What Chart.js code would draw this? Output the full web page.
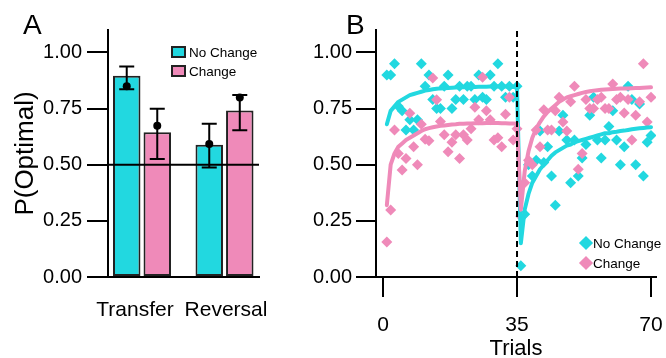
<!DOCTYPE html>
<html>
<head>
<meta charset="utf-8">
<script src="https://cdn.jsdelivr.net/npm/chart.js@4.4.1/dist/chart.umd.min.js"></script>
<style>
  body { margin: 0; background: #fff; width: 666px; height: 358px; position: relative; overflow: hidden;
         font-family: 'Liberation Sans', Arial, sans-serif; color: #000; }
  canvas { position: absolute; top: 0; }
  #chartA { left: 0; }
  #chartB { left: 290px; }
  .panel { position: absolute; font-size: 28px; line-height: 28px; }
  .legend-row { position: absolute; height: 16px; display: flex; align-items: center; font-size: 13.5px; white-space: nowrap; }
  .swatch { width: 15px; height: 12px; box-sizing: border-box; border: 2px solid #222; margin-right: 3px; }
  .diamond { width: 10px; height: 10px; margin: 0 2px; transform: rotate(45deg); }
</style>
</head>
<body>
<canvas id="chartA" width="270" height="358"></canvas>
<canvas id="chartB" width="376" height="358"></canvas>

<div class="panel" style="left:23px; top:11px;">A</div>
<div class="panel" style="left:346px; top:11px;">B</div>

<div class="legend-row" style="left:171px; top:44px;"><div class="swatch" style="background:#22d8e0"></div>No Change</div>
<div class="legend-row" style="left:171px; top:63px;"><div class="swatch" style="background:#ef8ab9"></div>Change</div>

<div class="legend-row" style="left:579px; top:235px;"><div class="diamond" style="background:#22d8e0"></div>No Change</div>
<div class="legend-row" style="left:579px; top:255px;"><div class="diamond" style="background:#ef8ab9"></div>Change</div>

<script>
// Colours
const CYAN = '#22d8e0';
const PINK = '#ef8ab9';

// ---- Panel A data ----
const categories = ['Transfer', 'Reversal'];
const noChangeBar = [0.896, 0.589];
const changeBar = [0.645, 0.741];
const noChangeDot = [0.850, 0.592];
const changeDot = [0.674, 0.799];
const noChangeLo = [0.836, 0.488];
const noChangeHi = [0.937, 0.682];
const changeLo = [0.525, 0.653];
const changeHi = [0.749, 0.811];
const chanceLevel = 0.5;
const yTicks = [0, 0.25, 0.5, 0.75, 1];

// ---- Panel B data ----
const trials = [1, 2, 3, 4, 5, 6, 7, 8, 9, 10, 11, 12, 13, 14, 15, 16, 17, 18, 19, 20,
  21, 22, 23, 24, 25, 26, 27, 28, 29, 30, 31, 32, 33, 34, 35, 36, 37, 38, 39, 40,
  41, 42, 43, 44, 45, 46, 47, 48, 49, 50, 51, 52, 53, 54, 55, 56, 57, 58, 59, 60,
  61, 62, 63, 64, 65, 66, 67, 68, 69, 70];
const xTicks = [0, 35, 70];
const switchTrial = 35;

const noChangeTrials = [
  0.90, 0.90, 0.95, 0.76, 0.74, 0.655, 0.70, 0.655, 0.70, 0.95,
  0.85, 0.90, 0.79, 0.75, 0.75, 0.85, 0.90, 0.75, 0.79, 0.85,
  0.79, 0.85, 0.85, 0.79, 0.90, 0.80, 0.79, 0.90, 0.85, 0.95,
  0.85, 0.80, 0.85, 0.80, 0.85,
  0.05, 0.28, 0.50, 0.45, 0.52, 0.65, 0.51, 0.58, 0.45, 0.32,
  0.65, 0.72, 0.61, 0.42, 0.61, 0.45, 0.53, 0.59, 0.72, 0.80,
  0.61, 0.53, 0.61, 0.67, 0.74, 0.61, 0.50, 0.58, 0.85, 0.79,
  0.50, 0.77, 0.45, 0.60, 0.63];
const changeTrials = [
  0.156, 0.298, 0.655, 0.55, 0.476, 0.528, 0.729, 0.58, 0.50, 0.68,
  0.613, 0.607, 0.886, 0.789, 0.692, 0.633, 0.558, 0.60, 0.633, 0.528,
  0.633, 0.61, 0.66, 0.756, 0.70, 0.89, 0.74, 0.70, 0.61, 0.62,
  0.58, 0.725, 0.80, 0.61, 0.66,
  0.27, 0.42, 0.52, 0.50, 0.655, 0.58, 0.745, 0.655, 0.655, 0.74,
  0.80, 0.69, 0.65, 0.78, 0.85, 0.48, 0.55, 0.79, 0.75, 0.75,
  0.79, 0.80, 0.75, 0.75, 0.86, 0.79, 0.80, 0.73, 0.79, 0.61,
  0.72, 0.78, 0.95, 0.69, 0.80];
const noChangeFit = [
  0.68, 0.74, 0.76, 0.78, 0.79, 0.80, 0.81, 0.815, 0.82, 0.825,
  0.83, 0.833, 0.836, 0.838, 0.84, 0.841, 0.842, 0.843, 0.844, 0.845,
  0.845, 0.846, 0.846, 0.846, 0.847, 0.847, 0.847, 0.848, 0.848, 0.848,
  0.848, 0.848, 0.847, 0.846, 0.845,
  0.15, 0.30, 0.37, 0.42, 0.45, 0.48, 0.50, 0.52, 0.54, 0.555,
  0.565, 0.575, 0.585, 0.59, 0.60, 0.605, 0.61, 0.615, 0.62, 0.625,
  0.63, 0.635, 0.64, 0.64, 0.645, 0.647, 0.65, 0.652, 0.655, 0.658,
  0.66, 0.662, 0.664, 0.666, 0.667];
const changeFit = [
  0.32, 0.50, 0.55, 0.58, 0.595, 0.61, 0.62, 0.63, 0.64, 0.65,
  0.658, 0.663, 0.667, 0.67, 0.673, 0.675, 0.677, 0.679, 0.68, 0.682,
  0.683, 0.684, 0.684, 0.685, 0.685, 0.685, 0.686, 0.686, 0.686, 0.686,
  0.685, 0.685, 0.684, 0.684, 0.683,
  0.30, 0.47, 0.56, 0.62, 0.66, 0.69, 0.715, 0.735, 0.75, 0.765,
  0.78, 0.79, 0.80, 0.805, 0.81, 0.815, 0.82, 0.824, 0.827, 0.83,
  0.832, 0.834, 0.835, 0.836, 0.837, 0.838, 0.839, 0.84, 0.84, 0.841,
  0.842, 0.842, 0.843, 0.844, 0.845];

// Global look
Chart.defaults.font.family = "'Liberation Sans', Arial, sans-serif";
Chart.defaults.color = '#000';

const Y_MAX = 1.1;

function yAxis(tickLen, pad) {
  return {
    min: 0, max: Y_MAX,
    afterBuildTicks: s => { s.ticks = yTicks.map(v => ({ value: v })); },
    ticks: { callback: v => v.toFixed(2), font: { size: 20 }, color: '#000', padding: pad },
    grid: { drawOnChartArea: false, drawTicks: true, tickLength: tickLen, color: '#000', lineWidth: 2 },
    border: { display: true, color: '#000', width: 2 }
  };
}

// chance line, error bars and mean dots for panel A
const errorBarPlugin = {
  id: 'errorBars',
  afterDatasetsDraw(chart) {
    const ctx = chart.ctx;
    const y = chart.scales.y;
    const area = chart.chartArea;
    ctx.save();
    ctx.strokeStyle = '#000';
    ctx.fillStyle = '#000';
    ctx.lineWidth = 2;

    const yc = y.getPixelForValue(chanceLevel);
    ctx.beginPath();
    ctx.moveTo(area.left, yc);
    ctx.lineTo(area.right, yc);
    ctx.stroke();

    const sets = [[noChangeLo, noChangeHi, noChangeDot], [changeLo, changeHi, changeDot]];
    sets.forEach(([lo, hi, dot], i) => {
      chart.getDatasetMeta(i).data.forEach((bar, j) => {
        const x = bar.x;
        const top = y.getPixelForValue(hi[j]);
        const bot = y.getPixelForValue(lo[j]);
        ctx.beginPath();
        ctx.moveTo(x, top); ctx.lineTo(x, bot);
        ctx.moveTo(x - 7.5, top); ctx.lineTo(x + 7.5, top);
        ctx.moveTo(x - 7.5, bot); ctx.lineTo(x + 7.5, bot);
        ctx.stroke();
        ctx.beginPath();
        ctx.arc(x, y.getPixelForValue(dot[j]), 4, 0, Math.PI * 2);
        ctx.fill();
      });
    });
    ctx.restore();
  }
};

function initPanelA() {
  const yA = yAxis(21, 5);
  yA.title = { display: true, text: 'P(Optimal)', font: { size: 26, lineHeight: 1 }, color: '#000', padding: { top: 13, bottom: 0 } };
  yA.afterFit = s => { s.width = 108; };

  // the category labels sit a little off the group centres in the original
  const labelNudge = [-0.085, 0.018];

  new Chart(document.getElementById('chartA'), {
    type: 'bar',
    data: {
      datasets: [
        {
          label: 'No Change',
          data: categories.map((c, i) => ({ x: i + 1, y: noChangeBar[i] })),
          backgroundColor: CYAN, borderColor: '#222', borderWidth: 2, borderSkipped: false
        },
        {
          label: 'Change',
          data: categories.map((c, i) => ({ x: i + 1, y: changeBar[i] })),
          backgroundColor: PINK, borderColor: '#222', borderWidth: 2, borderSkipped: false
        }
      ]
    },
    options: {
      responsive: false,
      animation: false,
      events: [],
      categoryPercentage: 0.74,
      barPercentage: 0.9,
      layout: { padding: { top: 30, right: 11, left: 0, bottom: 0 } },
      plugins: { legend: { display: false }, tooltip: { enabled: false } },
      scales: {
        x: {
          type: 'linear', min: 0.588, max: 2.418, offset: false,
          grid: { display: false, drawTicks: false },
          border: { display: true, color: '#000', width: 2 },
          afterBuildTicks: s => { s.ticks = categories.map((c, i) => ({ value: i + 1 + labelNudge[i] })); },
          // tall line height pushes the labels down without widening the side padding
          ticks: { callback: (v, i) => categories[i], font: { size: 21, lineHeight: 3.14 }, color: '#000', padding: 0, maxRotation: 0, autoSkip: false },
          afterFit: s => { s.height = 81; }
        },
        y: yA
      }
    },
    plugins: [errorBarPlugin]
  });
}

function initPanelB() {
  const yB = yAxis(20, 4);
  yB.afterFit = s => { s.width = 86; };

  const pts = vals => trials.map((t, i) => ({ x: t, y: vals[i] }));

  new Chart(document.getElementById('chartB'), {
    type: 'scatter',
    data: {
      datasets: [
        {
          type: 'line', label: 'switch',
          data: [{ x: switchTrial, y: 0 }, { x: switchTrial, y: Y_MAX }],
          borderColor: '#000', borderWidth: 2, borderDash: [6, 4], pointRadius: 0, order: -1
        },
        {
          type: 'line', label: 'Change fit', data: pts(changeFit),
          borderColor: PINK, borderWidth: 4, pointRadius: 0, tension: 0,
          borderJoinStyle: 'round', borderCapStyle: 'round', order: 0
        },
        {
          type: 'line', label: 'No Change fit', data: pts(noChangeFit),
          borderColor: CYAN, borderWidth: 4, pointRadius: 0, tension: 0,
          borderJoinStyle: 'round', borderCapStyle: 'round', order: 1
        },
        {
          label: 'Change', data: pts(changeTrials),
          pointStyle: 'rectRot', pointRadius: 5.5, backgroundColor: PINK, borderWidth: 0, order: 2
        },
        {
          label: 'No Change', data: pts(noChangeTrials),
          pointStyle: 'rectRot', pointRadius: 5.5, backgroundColor: CYAN, borderWidth: 0, order: 3
        }
      ]
    },
    options: {
      responsive: false,
      animation: false,
      events: [],
      layout: { padding: { top: 30, right: 10, left: 0, bottom: 0 } },
      plugins: { legend: { display: false }, tooltip: { enabled: false } },
      scales: {
        x: {
          type: 'linear', min: -1.83, max: 71.3,
          afterBuildTicks: s => { s.ticks = xTicks.map(v => ({ value: v })); },
          ticks: { font: { size: 21, lineHeight: 2.71 }, color: '#000', padding: 0, maxRotation: 0 },
          grid: { drawOnChartArea: false, drawTicks: true, tickLength: 20, color: '#000', lineWidth: 2 },
          border: { display: true, color: '#000', width: 2 },
          title: { display: true, text: 'Trials', font: { size: 22, lineHeight: 1 }, color: '#000', padding: { top: 0, bottom: -2 } },
          afterFit: s => { s.height = 81; }
        },
        y: yB
      }
    }
  });
}

initPanelA();
initPanelB();
</script>
</body>
</html>
